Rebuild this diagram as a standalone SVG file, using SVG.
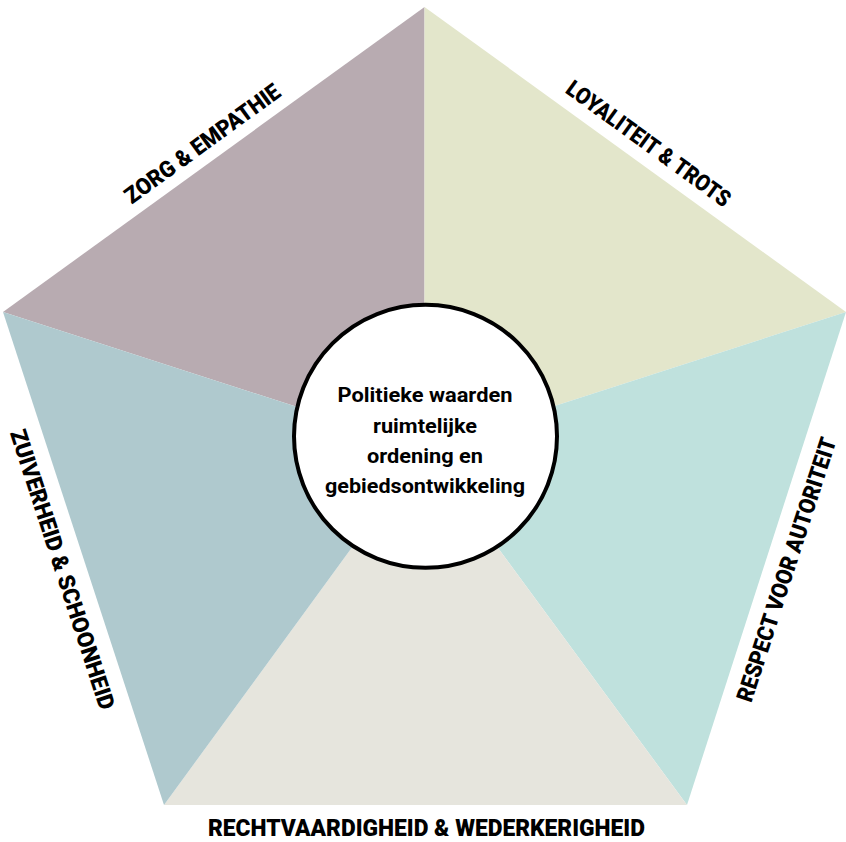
<svg xmlns="http://www.w3.org/2000/svg" width="846" height="842" viewBox="0 0 846 842">
<style>
.lbl{font-family:Roboto,"Open Sans","Liberation Sans",sans-serif;font-weight:900;font-size:23px;fill:#000;text-anchor:middle}
.ctr{font-family:Roboto,"Open Sans","Liberation Sans",sans-serif;font-weight:700;font-size:21px;fill:#000;text-anchor:middle}
</style>
<rect width="846" height="842" fill="#ffffff"/>
<g id="sectors">
<polygon id="zorg" points="424.5,448 3,312 424.5,7" fill="#b8abb1"/>
<polygon id="loyaliteit" points="424.5,448 424.5,7 846,312" fill="#e3e6cb"/>
<polygon id="respect" points="424.5,448 846,312 687,805" fill="#bfe1dd"/>
<polygon id="recht" points="424.5,448 687,805 164,805" fill="#e6e5dd"/>
<polygon id="zuiverheid" points="424.5,448 164,805 3,312" fill="#afc9ce"/>
</g>
<g id="labels">
<text class="lbl" transform="translate(207,150) rotate(-36)" textLength="186" lengthAdjust="spacingAndGlyphs">ZORG &amp; EMPATHIE</text>
<text class="lbl" transform="translate(644,150) rotate(36)" textLength="197" lengthAdjust="spacingAndGlyphs">LOYALITEIT &amp; TROTS</text>
<text class="lbl" transform="translate(794,572) rotate(-72)" textLength="276" lengthAdjust="spacingAndGlyphs">RESPECT VOOR AUTORITEIT</text>
<text class="lbl" transform="translate(55,572) rotate(72)" textLength="293" lengthAdjust="spacingAndGlyphs">ZUIVERHEID &amp; SCHOONHEID</text>
<text class="lbl" x="426.5" y="836" textLength="437" lengthAdjust="spacingAndGlyphs">RECHTVAARDIGHEID &amp; WEDERKERIGHEID</text>
</g>
<g id="center">
<circle cx="425.5" cy="436.3" r="131.5" fill="#ffffff" stroke="#000000" stroke-width="4"/>
<text class="ctr" x="425" y="402" textLength="175" lengthAdjust="spacingAndGlyphs">Politieke waarden</text>
<text class="ctr" x="425" y="432.5" textLength="104" lengthAdjust="spacingAndGlyphs">ruimtelijke</text>
<text class="ctr" x="425" y="463" textLength="116" lengthAdjust="spacingAndGlyphs">ordening en</text>
<text class="ctr" x="425" y="493.3" textLength="200" lengthAdjust="spacingAndGlyphs">gebiedsontwikkeling</text>
</g>
</svg>
